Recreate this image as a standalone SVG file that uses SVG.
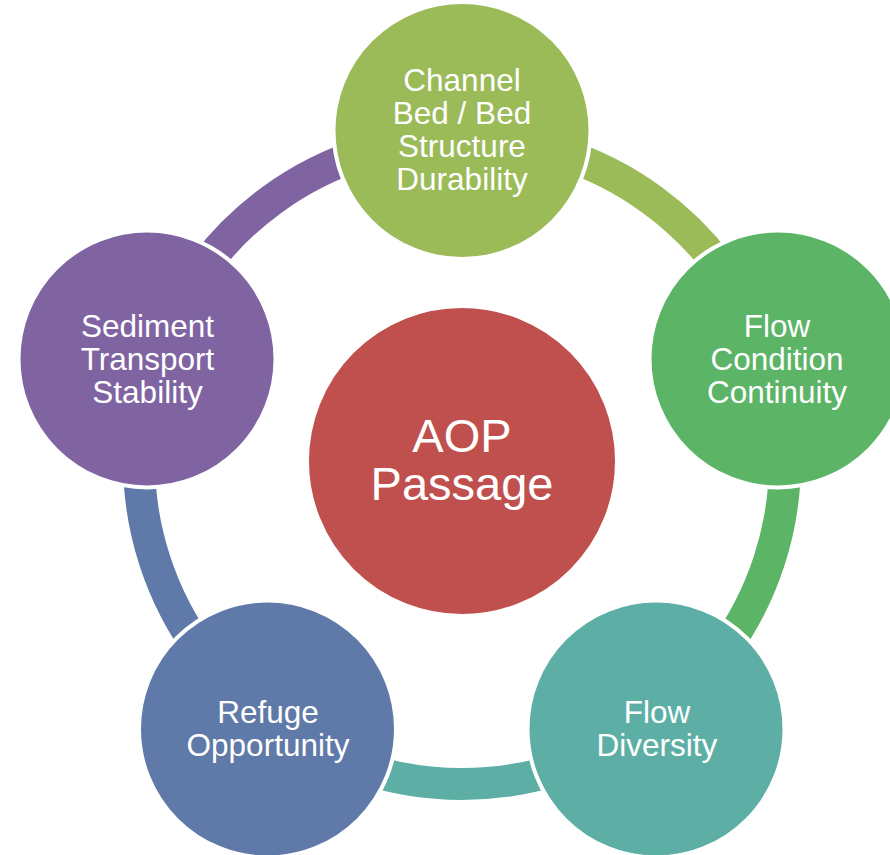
<svg xmlns="http://www.w3.org/2000/svg" width="890" height="855" viewBox="0 0 890 855">
  <style>
    .ring { fill: none; stroke-width: 32; }
    .node { stroke: #FFFFFF; stroke-width: 4; }
    .lbl { font-family: "Liberation Sans", Arial, sans-serif; font-size: 31.5px; fill: #FFFFFF; text-anchor: middle; }
    .hub { font-family: "Liberation Sans", Arial, sans-serif; font-size: 47px; fill: #FFFFFF; text-anchor: middle; }
  </style>
  <rect width="890" height="855" fill="#FFFFFF"/>

  <!-- cycle arcs on a ring of radius 323 around (462,461); each takes the colour of the node it leaves -->
  <g id="connectors">
    <path class="ring" stroke="#9BBB59" d="M 462 138 A 323 323 0 0 1 769.19 361.19"/>
    <path class="ring" stroke="#5CB467" d="M 769.19 361.19 A 323 323 0 0 1 651.86 722.31"/>
    <path class="ring" stroke="#5DAFA6" d="M 651.86 722.31 A 323 323 0 0 1 272.14 722.31"/>
    <path class="ring" stroke="#5F7AA8" d="M 272.14 722.31 A 323 323 0 0 1 154.81 361.19"/>
    <path class="ring" stroke="#8064A2" d="M 154.81 361.19 A 323 323 0 0 1 462 138"/>
  </g>

  <g id="hub">
    <circle class="node" cx="462" cy="461" r="155" fill="#C0504D"/>
    <text class="hub" x="462" y="451.5">AOP</text>
    <text class="hub" x="462" y="500">Passage</text>
  </g>

  <g id="channel-bed">
    <circle class="node" cx="462" cy="130.5" r="128.5" fill="#9BBB59"/>
    <text class="lbl" x="462" y="90.5">Channel</text>
    <text class="lbl" x="462" y="123.8">Bed / Bed</text>
    <text class="lbl" x="462" y="157.1">Structure</text>
    <text class="lbl" x="462" y="190.4">Durability</text>
  </g>

  <g id="flow-condition">
    <circle class="node" cx="778" cy="359" r="128.5" fill="#5CB467"/>
    <text class="lbl" x="777" y="336.5">Flow</text>
    <text class="lbl" x="777" y="369.8">Condition</text>
    <text class="lbl" x="777" y="403">Continuity</text>
  </g>

  <g id="flow-diversity">
    <circle class="node" cx="656" cy="729" r="128.5" fill="#5DAFA6"/>
    <text class="lbl" x="657" y="722.7">Flow</text>
    <text class="lbl" x="657" y="756">Diversity</text>
  </g>

  <g id="refuge">
    <circle class="node" cx="267.5" cy="729" r="128.5" fill="#5F7AA8"/>
    <text class="lbl" x="268" y="723.3">Refuge</text>
    <text class="lbl" x="268" y="756">Opportunity</text>
  </g>

  <g id="sediment">
    <circle class="node" cx="147" cy="359" r="128.5" fill="#8064A2"/>
    <text class="lbl" x="147.5" y="336.5">Sediment</text>
    <text class="lbl" x="147.5" y="370">Transport</text>
    <text class="lbl" x="147.5" y="403">Stability</text>
  </g>
</svg>
